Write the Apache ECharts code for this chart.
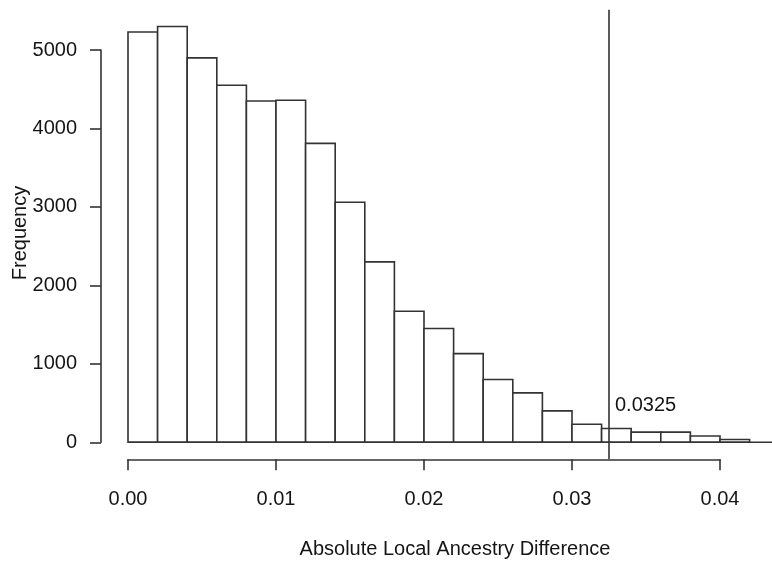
<!DOCTYPE html>
<html>
<head>
<meta charset="utf-8">
<script src="https://cdn.jsdelivr.net/npm/echarts@6/dist/echarts.min.js"></script>
<style>
  html, body { margin: 0; padding: 0; background: #fff; }
  #chart { width: 772px; height: 566px; }
</style>
</head>
<body>
<div id="chart"></div>
<script>
// ---- data ----
const binEdges = [0.000, 0.002, 0.004, 0.006, 0.008, 0.010, 0.012, 0.014, 0.016, 0.018, 0.020,
                  0.022, 0.024, 0.026, 0.028, 0.030, 0.032, 0.034, 0.036, 0.038, 0.040, 0.042];
const frequency = [5230, 5300, 4900, 4550, 4350, 4360, 3810, 3060, 2300, 1670, 1450,
                   1130, 800, 630, 400, 230, 175, 130, 130, 80, 35];
const xTicks = [0.00, 0.01, 0.02, 0.03, 0.04];
const yTicks = [0, 1000, 2000, 3000, 4000, 5000];
const cutoff = 0.0325;
const cutoffLabel = '0.0325';
const cutoffLabelY = 475;
const xTitle = 'Absolute Local Ancestry Difference';
const yTitle = 'Frequency';
// plot-region extent in data units (R's 4% padding)
const plotX = [-0.00168, 0.04368];
const plotY = [-212, 5512];

const FONT = "'Liberation Sans', Arial, Helvetica, sans-serif";
const INK = '#333';
const TXT = '#151515';
const LW = 1.6;

const chart = echarts.init(document.getElementById('chart'), null, { renderer: 'canvas' });

const bins = frequency.map((f, i) => [binEdges[i], binEdges[i + 1], f]);
// reference lines: [x0, y0, x1, y1]
const refLines = [
  [binEdges[0], 0, plotX[1], 0],
  [cutoff, plotY[0], cutoff, plotY[1]]
];

const option = {
  animation: false,
  backgroundColor: '#fff',
  grid: { left: 128, right: 52, top: 50, bottom: 123.7, containLabel: false },
  xAxis: {
    type: 'value', min: xTicks[0], max: xTicks[xTicks.length - 1], interval: 0.01,
    offset: 17,
    axisLine: { show: true, onZero: false, lineStyle: { color: INK, width: LW } },
    axisTick: { show: true, length: 11, lineStyle: { color: INK, width: LW } },
    axisLabel: { fontSize: 20, fontFamily: FONT, color: TXT, margin: 30,
                 formatter: v => v.toFixed(2) },
    splitLine: { show: false }
  },
  yAxis: {
    type: 'value', min: yTicks[0], max: yTicks[yTicks.length - 1], interval: 1000,
    offset: 27,
    axisLine: { show: true, onZero: false, lineStyle: { color: INK, width: LW } },
    axisTick: { show: true, length: 11, lineStyle: { color: INK, width: LW } },
    axisLabel: { fontSize: 20, fontFamily: FONT, color: TXT, margin: 24,
                 formatter: v => String(v) },
    splitLine: { show: false }
  },
  series: [
    {
      type: 'custom',
      clip: false,
      data: bins,
      renderItem: function (params, api) {
        const x0 = api.value(0), x1 = api.value(1), y = api.value(2);
        const p0 = api.coord([x0, 0]);
        const p1 = api.coord([x1, y]);
        return {
          type: 'rect',
          shape: { x: p0[0], y: p1[1], width: p1[0] - p0[0], height: p0[1] - p1[1] },
          style: { fill: '#fff', stroke: INK, lineWidth: LW }
        };
      }
    },
    {
      type: 'custom',
      clip: false,
      silent: true,
      data: refLines,
      renderItem: function (params, api) {
        const a = api.coord([api.value(0), api.value(1)]);
        const b = api.coord([api.value(2), api.value(3)]);
        return {
          type: 'line',
          shape: { x1: a[0], y1: a[1], x2: b[0], y2: b[1] },
          style: { stroke: INK, lineWidth: LW }
        };
      }
    },
    {
      type: 'custom',
      clip: false,
      silent: true,
      data: [[cutoff, cutoffLabelY]],
      renderItem: function (params, api) {
        const p = api.coord([api.value(0), api.value(1)]);
        return {
          type: 'text',
          x: p[0] + 6, y: p[1],
          style: { text: cutoffLabel, font: '20px ' + FONT, fill: TXT,
                   align: 'left', verticalAlign: 'middle' }
        };
      }
    }
  ],
  graphic: [
    { type: 'text', x: 455, y: 549,
      style: { text: xTitle, font: '20px ' + FONT, fill: TXT, align: 'center', verticalAlign: 'middle' } },
    { type: 'text', x: 20, y: 233, rotation: Math.PI / 2,
      style: { text: yTitle, font: '20px ' + FONT, fill: TXT, align: 'center', verticalAlign: 'middle' } }
  ]
};
chart.setOption(option);
</script>
</body>
</html>
